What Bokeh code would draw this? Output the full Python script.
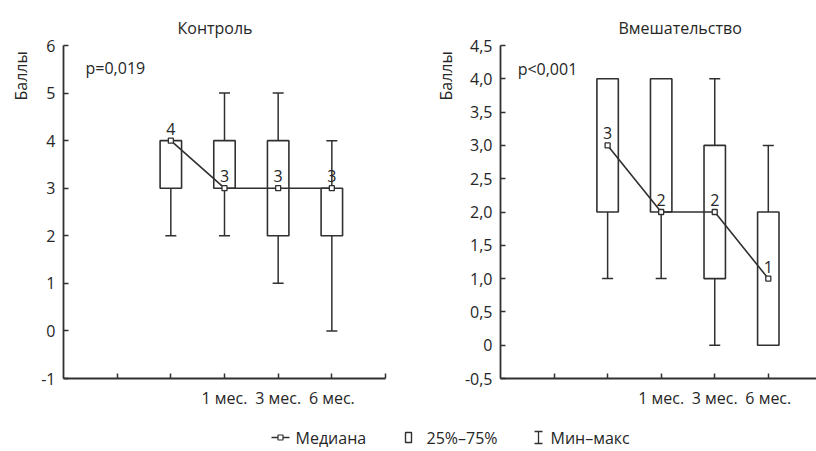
import numpy as np
from bokeh.plotting import figure
from bokeh.layouts import column, row
from bokeh.models import FixedTicker, Label, ColumnDataSource, Title
from bokeh.core.properties import value
from bokeh.embed import file_html
from bokeh.resources import INLINE

# ---- data ----
positions = [2, 3, 4, 5]
tick_names = {1: "", 2: "", 3: "1 мес.", 4: "3 мес.", 5: "6 мес.", 6: ""}

ctrl_min = [2, 2, 1, 0]
ctrl_q1 = [3, 3, 2, 2]
ctrl_med = [4, 3, 3, 3]
ctrl_q3 = [4, 4, 4, 3]
ctrl_max = [4, 5, 5, 4]

int_min = [1, 1, 0, 0]
int_q1 = [2, 2, 1, 0]
int_med = [3, 2, 2, 1]
int_q3 = [4, 4, 3, 2]
int_max = [4, 4, 4, 3]

ctrl_title = "Контроль"
int_title = "Вмешательство"
ctrl_p = "p=0,019"
int_p = "p<0,001"
y_title = "Баллы"
ctrl_yticks = [-1, 0, 1, 2, 3, 4, 5, 6]
int_yticks = [-0.5, 0, 0.5, 1, 1.5, 2, 2.5, 3, 3.5, 4, 4.5]
int_ylabels = ["-0,5", "0", "0,5", "1,0", "1,5", "2,0", "2,5", "3,0", "3,5", "4,0", "4,5"]
legend_names = ["Медиана", "25%–75%", "Мин–макс"]

FONT = "Open Sans"
TXT = "#262626"
LINE = "#303030"
FS = "16px"


def panel(width, xr, yr, yticks, ylabels, xticks, mn, q1, med, q3, mx,
          title, title_off, ptxt, p_x, p_y, ylab_standoff, border_left, border_right):
    p = figure(width=width, height=415, x_range=xr, y_range=yr,
               output_backend="svg", toolbar_location=None,
               min_border_left=border_left, min_border_right=border_right,
               min_border_top=45, min_border_bottom=37)
    p.outline_line_color = None
    p.xgrid.visible = False
    p.ygrid.visible = False
    for ax in (p.xaxis[0], p.yaxis[0]):
        ax.axis_line_color = LINE
        ax.axis_line_width = 1.8
        ax.major_tick_line_color = LINE
        ax.major_tick_line_width = 1.5
        ax.major_tick_in = 5
        ax.major_tick_out = 0
        ax.minor_tick_line_color = None
        ax.major_label_text_font = FONT
        ax.major_label_text_font_size = FS
        ax.major_label_text_color = TXT
        ax.major_label_standoff = 8
    p.xaxis.ticker = FixedTicker(ticks=xticks)
    p.xaxis.major_label_overrides = {k: tick_names[k] for k in xticks}
    p.yaxis.ticker = FixedTicker(ticks=yticks)
    p.yaxis.major_label_overrides = {t: l for t, l in zip(yticks, ylabels)}

    src = ColumnDataSource(dict(x=positions, mn=mn, q1=q1, med=med, q3=q3, mx=mx,
                                lab=[str(v) for v in med]))
    p.segment(x0="x", x1="x", y0="mn", y1="mx", source=src,
              line_color=LINE, line_width=1.5)
    p.scatter(x="x", y="mn", source=src, marker="dash", size=11,
              line_color=LINE, line_width=1.5)
    p.scatter(x="x", y="mx", source=src, marker="dash", size=11,
              line_color=LINE, line_width=1.5)
    p.vbar(x="x", width=0.4, bottom="q1", top="q3", source=src,
           fill_color="white", line_color=LINE, line_width=1.6)
    p.line(x="x", y="med", source=src, line_color=LINE, line_width=1.6)
    p.scatter(x="x", y="med", source=src, marker="square", size=5,
              fill_color="white", line_color=LINE, line_width=1.3)
    p.text(x="x", y="med", text="lab", source=src, text_align="center",
           text_baseline="bottom", y_offset=-6, text_font=value(FONT),
           text_font_size=FS, text_color=TXT)

    p.add_layout(Label(x=p_x, y=p_y, text=ptxt, text_align="left",
                       text_baseline="middle", text_font=FONT,
                       text_font_size=FS, text_color=TXT))
    t = Title(text=title, align="left", offset=title_off, standoff=14,
              text_font=FONT, text_font_size=FS, text_color=TXT,
              text_font_style="normal")
    p.add_layout(t, "above")
    yl = Title(text=y_title, align="left", standoff=ylab_standoff, offset=278,
               text_font=FONT, text_font_size=FS, text_color=TXT,
               text_font_style="normal")
    p.add_layout(yl, "left")
    return p


p1 = panel(408, (0, 6), (-1, 6), ctrl_yticks, [str(t) for t in ctrl_yticks],
           [1, 2, 3, 4, 5, 6], ctrl_min, ctrl_q1, ctrl_med, ctrl_q3, ctrl_max,
           ctrl_title, 114, ctrl_p, 0.41, 5.52, 13, 63, 23)
p2 = panel(408, (0, 5.9), (-0.5, 4.5), int_yticks, int_ylabels,
           [1, 2, 3, 4, 5], int_min, int_q1, int_med, int_q3, int_max,
           int_title, 118, int_p, 0.32, 4.15, 9, 92, 0)

# ---- legend strip ----
lg = figure(width=816, height=36, x_range=(0, 816), y_range=(36, 0),
            output_backend="svg", toolbar_location=None,
            min_border=0)
lg.axis.visible = False
lg.grid.visible = False
lg.outline_line_color = None
ly = 22
lg.segment(x0=[271], x1=[289], y0=[ly], y1=[ly], line_color=LINE, line_width=1.4)
lg.scatter(x=[280], y=[ly], marker="square", size=5, fill_color="white",
           line_color=LINE, line_width=1.2)
lg.quad(left=[405], right=[411], top=[ly - 5], bottom=[ly + 5],
        fill_color="white", line_color=LINE, line_width=1.4)
lg.segment(x0=[538], x1=[538], y0=[ly - 6], y1=[ly + 6], line_color=LINE, line_width=1.3)
lg.segment(x0=[534, 534], x1=[542, 542], y0=[ly - 6, ly + 6], y1=[ly - 6, ly + 6],
           line_color=LINE, line_width=1.3)
lg.text(x=[295, 426, 550], y=[ly, ly, ly], text=legend_names,
        text_baseline="middle", text_align="left", text_font=value(FONT),
        text_font_size=FS, text_color=TXT)

layout = column(row(p1, p2), lg)
open("out.html", "w").write(file_html(layout, INLINE))
